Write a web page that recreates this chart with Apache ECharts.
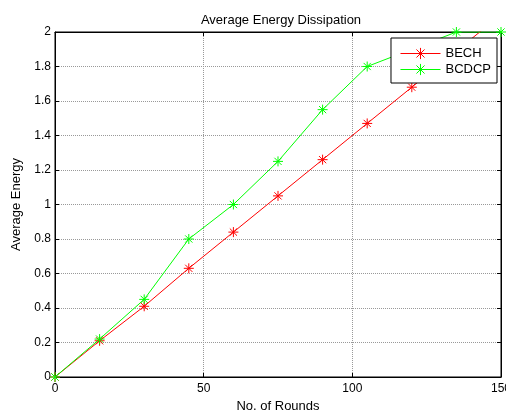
<!DOCTYPE html>
<html><head><meta charset="utf-8">
<script src="https://cdn.jsdelivr.net/npm/echarts@6/dist/echarts.min.js"></script>
<style>html,body{margin:0;padding:0;background:#fff}#c{width:506px;height:412px}</style>
</head><body><div id="c"></div>
<script>
const rounds = [0, 15, 30, 45, 60, 75, 90, 105, 120, 135, 150];
const bech = [0, 0.21, 0.41, 0.63, 0.84, 1.05, 1.26, 1.47, 1.68, 1.89, 2.10];
const bcdcp = [0, 0.22, 0.45, 0.80, 1.00, 1.25, 1.55, 1.80, 1.90, 2.00, 2.00];
const xTicks = [0, 50, 100, 150];
const yTicks = [0, 0.2, 0.4, 0.6, 0.8, 1, 1.2, 1.4, 1.6, 1.8, 2];

const star = 'path://M0,-5L0,5M-5,0L5,0M-3.6,-3.6L3.6,3.6M-3.6,3.6L3.6,-3.6';
const font = 'Liberation Sans, Arial, sans-serif';
const colors = {BECH: '#ff0000', BCDCP: '#00ff00'};
const chart = echarts.init(document.getElementById('c'), null, {renderer: 'canvas'});
function ser(name, vals) {
  const color = colors[name];
  return {
    name, type: 'line', data: rounds.map((r, i) => [r, vals[i]]),
    symbol: star, symbolSize: 10, showSymbol: true, clip: true,
    lineStyle: {color, width: 1},
    itemStyle: {color: 'rgba(0,0,0,0)', borderColor: color, borderWidth: 1},
    emphasis: {disabled: true}, animation: false
  };
}
const axisCommon = {
  axisLine: {onZero: false, lineStyle: {color: '#000', width: 1}},
  axisTick: {inside: true, length: 4, lineStyle: {color: '#000'}},
};
chart.setOption({
  animation: false,
  title: {text: 'Average Energy Dissipation', left: 276, textAlign: 'center', top: 9,
    textStyle: {fontFamily: font, fontSize: 13, fontWeight: 'normal', color: '#000'}},
  grid: {left: 55, top: 32, width: 446, height: 345, show: true, borderColor: '#000', borderWidth: 1,
    containLabel: false, outerBoundsMode: 'none'},
  legend: {
    right: 9, top: 38, orient: 'vertical', itemGap: 3, itemWidth: 40, itemHeight: 14,
    backgroundColor: '#fff', borderColor: '#000', borderWidth: 1, padding: [9, 6, 7, 9],
    textStyle: {fontFamily: font, fontSize: 13, color: '#000'},
    data: ['BECH', 'BCDCP'].map(n => ({
      name: n,
      itemStyle: {color: 'rgba(0,0,0,0)', borderColor: colors[n], borderWidth: 1},
      lineStyle: {color: colors[n], width: 1}
    }))
  },
  xAxis: [{
    type: 'value', min: 0, max: 150, interval: 50, position: 'bottom',
    name: 'No. of Rounds', nameLocation: 'middle', nameGap: 23,
    nameTextStyle: {fontFamily: font, fontSize: 13, color: '#000'},
    ...axisCommon,
    axisLabel: {fontFamily: font, fontSize: 12, color: '#000', margin: 6, showMaxLabel: true},
    splitLine: {show: true, lineStyle: {color: '#999', width: 1, type: [1, 1]}}
  }, {
    type: 'value', min: 0, max: 150, interval: 50, position: 'top',
    ...axisCommon, axisLabel: {show: false}, splitLine: {show: false}
  }],
  yAxis: [{
    type: 'value', min: 0, max: 2, interval: 0.2, position: 'left',
    name: 'Average Energy', nameLocation: 'middle', nameGap: 32, nameRotate: 90,
    nameTextStyle: {fontFamily: font, fontSize: 13, color: '#000'},
    ...axisCommon,
    axisLabel: {fontFamily: font, fontSize: 12, color: '#000', margin: 4,
      formatter: v => String(Math.round(v * 10) / 10)},
    splitLine: {show: true, lineStyle: {color: '#999', width: 1, type: [1, 1]}}
  }, {
    type: 'value', min: 0, max: 2, interval: 0.2, position: 'right',
    ...axisCommon, axisLabel: {show: false}, splitLine: {show: false}
  }],
  series: [ser('BECH', bech), ser('BCDCP', bcdcp)]
});
</script></body></html>
